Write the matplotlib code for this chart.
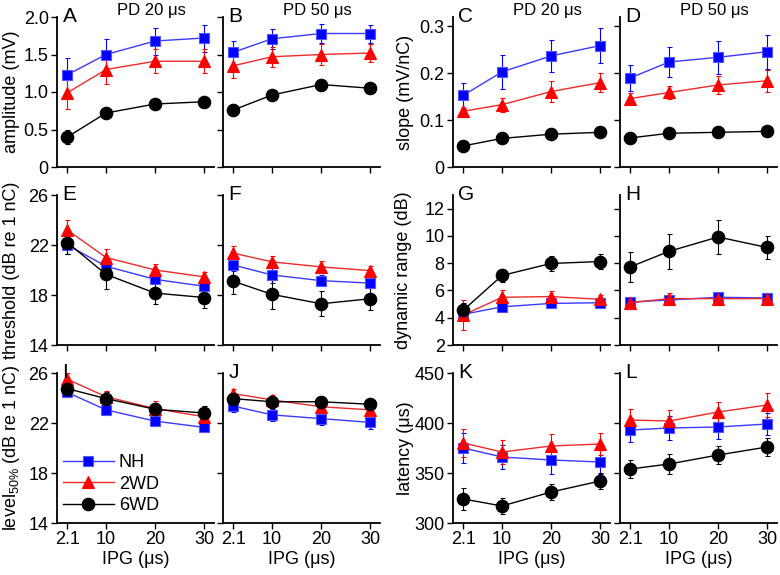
import matplotlib
matplotlib.use("Agg")
import matplotlib.pyplot as plt

plt.rcParams['font.family'] = ['Liberation Sans', 'DejaVu Sans']
plt.rcParams['mathtext.default'] = 'regular'

ipg = [2.1, 10, 20, 30]
ipg_labels = ["2.1", "10", "20", "30"]
groups = ["NH", "2WD", "6WD"]

# amplitude (mV)
amp20 = {"NH": [1.23, 1.50, 1.68, 1.72], "2WD": [0.99, 1.30, 1.41, 1.41], "6WD": [0.40, 0.72, 0.84, 0.87]}
amp20_err = {"NH": [0.22, 0.21, 0.18, 0.18], "2WD": [0.21, 0.19, 0.16, 0.16], "6WD": [0.09, 0.07, 0.06, 0.04]}
amp50 = {"NH": [1.53, 1.71, 1.78, 1.78], "2WD": [1.35, 1.47, 1.50, 1.52], "6WD": [0.76, 0.96, 1.10, 1.05]}
amp50_err = {"NH": [0.15, 0.13, 0.13, 0.12], "2WD": [0.16, 0.13, 0.14, 0.12], "6WD": [0.02, 0.02, 0.02, 0.02]}
# slope (mV/nC)
slope20 = {"NH": [0.153, 0.203, 0.237, 0.259], "2WD": [0.119, 0.133, 0.161, 0.180], "6WD": [0.045, 0.061, 0.070, 0.074]}
slope20_err = {"NH": [0.027, 0.036, 0.034, 0.038], "2WD": [0.005, 0.015, 0.022, 0.021], "6WD": [0.003, 0.003, 0.003, 0.003]}
slope50 = {"NH": [0.190, 0.224, 0.234, 0.246], "2WD": [0.146, 0.159, 0.175, 0.184], "6WD": [0.062, 0.072, 0.074, 0.076]}
slope50_err = {"NH": [0.028, 0.032, 0.035, 0.036], "2WD": [0.012, 0.014, 0.020, 0.024], "6WD": [0.004, 0.004, 0.004, 0.004]}
# threshold (dB re 1 nC)
thr20 = {"NH": [22.0, 20.3, 19.25, 18.7], "2WD": [23.2, 21.0, 20.0, 19.45], "6WD": [22.2, 19.65, 18.15, 17.8]}
thr20_err = {"NH": [0.7, 0.5, 0.4, 0.3], "2WD": [0.8, 0.65, 0.5, 0.4], "6WD": [0.9, 1.15, 0.9, 0.8]}
thr50 = {"NH": [20.4, 19.6, 19.15, 18.95], "2WD": [21.35, 20.65, 20.25, 19.95], "6WD": [19.1, 18.05, 17.3, 17.7]}
thr50_err = {"NH": [0.5, 0.6, 0.45, 0.35], "2WD": [0.53, 0.48, 0.48, 0.4], "6WD": [1.0, 1.15, 1.0, 0.9]}
# dynamic range (dB)
dr20 = {"NH": [4.25, 4.8, 5.05, 5.1], "2WD": [4.2, 5.5, 5.55, 5.35], "6WD": [4.55, 7.1, 7.98, 8.12]}
dr20_err = {"NH": [0.3, 0.3, 0.25, 0.25], "2WD": [1.1, 0.5, 0.4, 0.3], "6WD": [0.55, 0.5, 0.55, 0.55]}
dr50 = {"NH": [5.15, 5.3, 5.5, 5.45], "2WD": [5.1, 5.4, 5.4, 5.4], "6WD": [7.73, 8.87, 9.92, 9.15]}
dr50_err = {"NH": [0.3, 0.3, 0.3, 0.3], "2WD": [0.45, 0.4, 0.45, 0.4], "6WD": [1.1, 1.27, 1.22, 0.85]}
# level 50% (dB re 1 nC)
lev20 = {"NH": [24.45, 23.05, 22.15, 21.65], "2WD": [25.5, 24.1, 23.15, 22.5], "6WD": [24.75, 23.95, 23.1, 22.8]}
lev20_err = {"NH": [0.35, 0.35, 0.35, 0.35], "2WD": [0.5, 0.5, 0.6, 0.5], "6WD": [0.5, 0.5, 0.5, 0.6]}
lev50 = {"NH": [23.35, 22.65, 22.35, 22.05], "2WD": [24.35, 23.85, 23.3, 23.05], "6WD": [23.95, 23.7, 23.7, 23.5]}
lev50_err = {"NH": [0.5, 0.5, 0.5, 0.5], "2WD": [0.4, 0.4, 0.4, 0.4], "6WD": [0.4, 0.4, 0.4, 0.4]}
# latency (us)
lat20 = {"NH": [375, 366, 363, 361], "2WD": [380, 371, 377, 379], "6WD": [324, 317, 331, 342]}
lat20_err = {"NH": [15, 12, 14, 12], "2WD": [14, 12, 12, 11], "6WD": [11, 8, 8, 8]}
lat50 = {"NH": [393, 395, 396, 399], "2WD": [403, 402, 411, 418], "6WD": [354, 359, 368, 376]}
lat50_err = {"NH": [12, 12, 12, 11], "2WD": [11, 11, 10, 12], "6WD": [9, 10, 9, 9]}

styles = {
    "NH": dict(marker="s", color="#0000ff", line="#3a3aff", mec="#5555ff", ms=7.5),
    "2WD": dict(marker="^", color="#ff0000", line="#ee2a2a", mec="#ff0000", ms=9),
    "6WD": dict(marker="o", color="#000000", line="#000000", mec="#000000", ms=9),
}

W, H = 780, 575
fig = plt.figure(figsize=(W / 100, H / 100), dpi=100)

col_left = [57, 223, 453, 620]
col_w = 157
row_top = [17, 195, 373]
row_h = 150

def make_ax(r, c):
    l = col_left[c] / W
    b = 1 - (row_top[r] + row_h) / H
    return fig.add_axes([l, b, col_w / W, row_h / H])

panels = [
    (0, 0, "A", amp20, amp20_err, (0, 2.0), [0, 0.5, 1.0, 1.5, 2.0], ["0", "0.5", "1.0", "1.5", "2.0"], "PD 20 μs"),
    (0, 1, "B", amp50, amp50_err, (0, 2.0), [0, 0.5, 1.0, 1.5, 2.0], None, "PD 50 μs"),
    (0, 2, "C", slope20, slope20_err, (0, 0.32), [0, 0.1, 0.2, 0.3], ["0", "0.1", "0.2", "0.3"], "PD 20 μs"),
    (0, 3, "D", slope50, slope50_err, (0, 0.32), [0, 0.1, 0.2, 0.3], None, "PD 50 μs"),
    (1, 0, "E", thr20, thr20_err, (14, 26), [14, 18, 22, 26], ["14", "18", "22", "26"], None),
    (1, 1, "F", thr50, thr50_err, (14, 26), [14, 18, 22, 26], None, None),
    (1, 2, "G", dr20, dr20_err, (2, 13), [2, 4, 6, 8, 10, 12], ["2", "4", "6", "8", "10", "12"], None),
    (1, 3, "H", dr50, dr50_err, (2, 13), [2, 4, 6, 8, 10, 12], None, None),
    (2, 0, "I", lev20, lev20_err, (14, 26), [14, 18, 22, 26], ["14", "18", "22", "26"], None),
    (2, 1, "J", lev50, lev50_err, (14, 26), [14, 18, 22, 26], None, None),
    (2, 2, "K", lat20, lat20_err, (300, 450), [300, 350, 400, 450], ["300", "350", "400", "450"], None),
    (2, 3, "L", lat50, lat50_err, (300, 450), [300, 350, 400, 450], None, None),
]

axes = {}
for r, c, letter, data, err, ylim, yt, ytl, title in panels:
    ax = make_ax(r, c)
    axes[letter] = ax
    for g in groups:
        st = styles[g]
        ax.errorbar(ipg, data[g], yerr=err[g], fmt="none", ecolor=st["color"],
                    elinewidth=0.8, capsize=1.8, capthick=0.8, zorder=2)
        ax.plot(ipg, data[g], color=st["line"], lw=1.0, marker=st["marker"],
                ms=st["ms"], mfc=st["color"], mec=st["mec"], mew=0.8, label=g, zorder=3)
    ax.set_xlim(0, 32)
    ax.set_ylim(*ylim)
    ax.set_xticks(ipg)
    ax.set_yticks(yt)
    if ytl is None:
        ax.set_yticklabels([])
    else:
        ax.set_yticklabels(ytl)
    if r == 2:
        ax.set_xticklabels(ipg_labels)
        ax.set_xlabel("IPG (μs)", fontsize=13, labelpad=2)
    else:
        ax.set_xticklabels([])
    for s in ["top", "right"]:
        ax.spines[s].set_visible(False)
    for s in ["left", "bottom"]:
        ax.spines[s].set_linewidth(1.3)
    ax.tick_params(direction="out", length=4, width=1.0, labelsize=13, pad=2)
    ax.text(0.035, 0.966, letter, transform=ax.transAxes, fontsize=15,
            ha="left", va="baseline")
    if title:
        ax.text(0.6, 1.013, title, transform=ax.transAxes, fontsize=12,
                ha="center", va="baseline")

# y labels
def ylab(x_px, r, s):
    yc = 1 - (row_top[r] + row_h / 2) / H
    fig.text(x_px / W, yc, s, rotation=90, ha="center", va="center", fontsize=13)

ylab(12, 0, "amplitude (mV)")
ylab(12, 1, "threshold (dB re 1 nC)")
ylab(12, 2, r"level$_{50\%}$ (dB re 1 nC)")
ylab(405, 0, "slope (mV/nC)")
ylab(403, 1, "dynamic range (dB)")
ylab(405, 2, "latency (μs)")

axes["I"].legend(loc="center left", bbox_to_anchor=(0.038, 0.258), frameon=False,
                 fontsize=13, handlelength=2.8, handletextpad=0.3, labelspacing=0.25,
                 borderpad=0, borderaxespad=0)

fig.savefig("out.png", dpi=100)
